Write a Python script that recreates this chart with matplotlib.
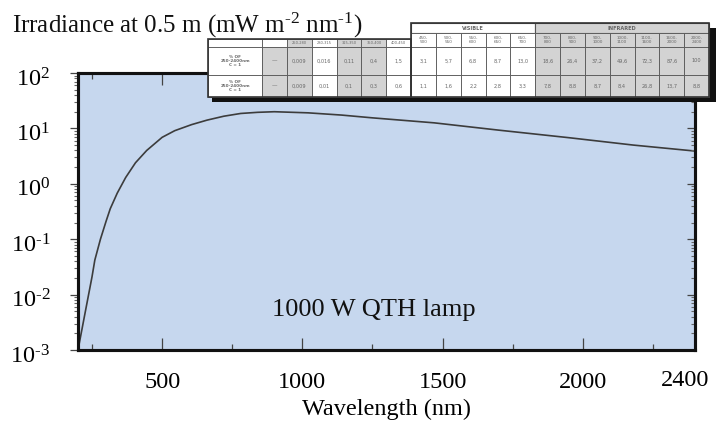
import matplotlib
matplotlib.use('Agg')
import math
import matplotlib.pyplot as plt
from matplotlib.patches import Rectangle
from matplotlib.ticker import FixedLocator, LogLocator, NullFormatter, FuncFormatter
import matplotlib.transforms as mtransforms

plt.rcParams['font.family'] = ['Liberation Serif', 'DejaVu Serif']
plt.rcParams['mathtext.fontset'] = 'custom'
plt.rcParams['mathtext.rm'] = 'Liberation Serif'
plt.rcParams['mathtext.it'] = 'Liberation Serif:italic'
plt.rcParams['mathtext.bf'] = 'Liberation Serif:bold'
plt.rcParams['axes.unicode_minus'] = False

# ---------------- data ----------------
wavelength_nm = [200, 225, 250, 260, 280, 300, 315, 340, 370, 405, 445, 500, 545, 605,
                 660, 720, 780, 840, 900, 1020, 1140, 1250, 1470, 1700, 1950, 2180, 2400]
irradiance = [0.001, 0.0046, 0.021, 0.042, 0.10, 0.21, 0.355, 0.68, 1.3, 2.4, 4.0, 6.9, 9.1, 11.7,
              14.1, 16.6, 18.6, 19.5, 20.0, 19.1, 17.4, 15.5, 12.6, 9.3, 6.8, 5.0, 3.9]

x_major_ticks = [500, 1000, 1500, 2000, 2400]
x_minor_ticks = [250, 750, 1250, 1750, 2250]
x_limits = [200, 2400]
y_limits = [1e-3, 1e2]

HY = "\u2010"
title_text = "Irradiance at 0.5 m (mW m$^{" + HY + "2}$ nm$^{" + HY + "1}$)"
x_label = "Wavelength (nm)"
lamp_label = "1000 W QTH lamp"

# inset table (pasted spectral distribution table)
table_bands = ["250-\n280", "280-\n315", "315-\n350", "350-\n400", "400-\n450",
               "450-\n500", "500-\n550", "550-\n600", "600-\n650", "650-\n700",
               "700-\n800", "800-\n900", "900-\n1000", "1000-\n1100", "1100-\n1600",
               "1600-\n2000", "2000-\n2400"]
table_groups = [("VISIBLE", 5, 10), ("INFRARED", 10, 17)]
table_row_labels = ["% OF\n250-2400nm\nC = 1", "% OF\n250-2400nm\nC = 1"]
row_cumulative = ["0,009", "0,016", "0,11", "0,4", "1,5", "3,1", "5,7", "6,8", "8,7", "13,0",
                  "18,6", "26,4", "37,2", "49,6", "72,3", "87,6", "100"]
row_share = ["0,009", "0,01", "0,1", "0,3", "0,6", "1,1", "1,6", "2,2", "2,8", "3,3",
             "7,8", "8,8", "8,7", "8,4", "26,8", "13,7", "8,8"]
grey_columns = [0, 2, 3, 10, 11, 12, 13, 14, 15, 16]

# ---------------- figure ----------------
W, H = 719, 429
fig = plt.figure(figsize=(W / 100, H / 100), dpi=100)
fig.patch.set_facecolor('white')

ax_l, ax_r, ax_t, ax_b = 78, 695, 73, 350
ax = fig.add_axes([ax_l / W, 1 - ax_b / H, (ax_r - ax_l) / W, (ax_b - ax_t) / H])
ax.set_facecolor('#c6d7ee')
ax.plot(wavelength_nm, irradiance, color='#3c3c3c', lw=1.2)
ax.set_yscale('log')
ax.set_xlim(x_limits)
ax.set_ylim(y_limits)

ax.xaxis.set_major_locator(FixedLocator(x_major_ticks))
ax.xaxis.set_minor_locator(FixedLocator(x_minor_ticks))
ax.xaxis.set_minor_formatter(NullFormatter())
ax.tick_params(axis='x', which='both', direction='in', top=True, bottom=True,
               labelsize=17.5, pad=16, colors='black')
ax.tick_params(axis='x', which='major', length=8.5, width=0.9, color='#444')
ax.tick_params(axis='x', which='minor', length=4, width=0.9, color='#444')


def decade_label(v, pos):
    e = int(round(math.log10(v)))
    return "$\\mathdefault{10^{" + str(e).replace('-', HY) + "}}$"


ax.yaxis.set_major_locator(LogLocator(base=10, numticks=10))
ax.yaxis.set_major_formatter(FuncFormatter(decade_label))
ax.yaxis.set_minor_locator(LogLocator(base=10, subs=range(2, 10), numticks=10))
ax.yaxis.set_minor_formatter(NullFormatter())
ax.tick_params(axis='y', which='both', direction='out', left=True, right=False,
               labelsize=17.5, pad=14)
ax.tick_params(axis='y', which='major', length=6, width=0.9, color='#444')
ax.tick_params(axis='y', which='minor', length=3, width=0.8, color='#666')

# right side inward ticks
axr = ax.twinx()
axr.set_yscale('log')
axr.set_ylim(y_limits)
axr.yaxis.set_major_locator(LogLocator(base=10, numticks=10))
axr.yaxis.set_minor_locator(LogLocator(base=10, subs=range(2, 10), numticks=10))
axr.tick_params(axis='y', which='both', direction='in', labelright=False)
axr.tick_params(axis='y', which='major', length=6, width=0.9, color='#444')
axr.tick_params(axis='y', which='minor', length=3, width=0.8, color='#666')

for a in (ax, axr):
    for s in a.spines.values():
        s.set_linewidth(2.2)
        s.set_color('#111')

ax.set_xlabel(x_label, fontsize=17.5, labelpad=4)

# shift the last x tick label (2400) left so it stays in the figure
fig.canvas.draw()
xl = ax.get_xticklabels()
last = xl[-1]
last.set_transform(last.get_transform() + mtransforms.ScaledTranslation(-10 / 100, 2 / 100, fig.dpi_scale_trans))
for lab in ax.get_yticklabels():
    lab.set_transform(lab.get_transform() + mtransforms.ScaledTranslation(0, -4 / 100, fig.dpi_scale_trans))

ax.text(0.48, 0.145, lamp_label, transform=ax.transAxes, ha='center', va='center',
        fontsize=19, color='#111')

# ---------------- inset table overlay ----------------
ov = fig.add_axes([0, 0, 1, 1], zorder=2)
ov.set_xlim(0, W)
ov.set_ylim(H, 0)
ov.axis('off')

x_lab0, x_dash0, x_data0, x_end = 208, 262, 287, 709
n = len(table_bands)
cw = (x_end - x_data0) / n
y_grp0, y_hdr0, y_r10, y_r20, y_end = 23, 33, 47, 75, 97
y_cut = 39
line_c = '#555555'
grey = '#d3d3d3'
txt_c = '#666666'
tfont = dict(family='DejaVu Sans', color=txt_c, ha='center', va='center')
n_cut = table_groups[0][1]

# shadow (bottom and right)
ov.add_patch(Rectangle((212, y_end), x_end + 7 - 212, 4.5, facecolor='#111', edgecolor='none'))
ov.add_patch(Rectangle((x_end, 28), 7, y_end + 4.5 - 28, facecolor='#111', edgecolor='none'))


def col_x(i):
    return x_data0 + i * cw


# white background of the table
ov.add_patch(Rectangle((col_x(n_cut), y_grp0), x_end - col_x(n_cut), y_end - y_grp0,
                       facecolor='white', edgecolor='none'))
ov.add_patch(Rectangle((x_lab0, y_cut), col_x(n_cut) - x_lab0, y_end - y_cut,
                       facecolor='white', edgecolor='none'))

# group header cells
for name, c0, c1 in table_groups:
    fc = grey if name == "INFRARED" else 'white'
    ov.add_patch(Rectangle((col_x(c0), y_grp0), col_x(c1) - col_x(c0), y_hdr0 - y_grp0,
                           facecolor=fc, edgecolor=line_c, lw=0.8))
    ov.text((col_x(c0) + col_x(c1)) / 2, (y_grp0 + y_hdr0) / 2, name, fontsize=3.6,
            weight='bold', **tfont)

# band header cells and data cells
rows = [(y_r10, y_r20, row_cumulative), (y_r20, y_end, row_share)]
for i, band in enumerate(table_bands):
    fc = grey if i in grey_columns else 'white'
    x0 = col_x(i)
    if i < n_cut:
        ov.add_patch(Rectangle((x0, y_cut), cw, y_r10 - y_cut, facecolor=fc, edgecolor=line_c, lw=0.6))
        ov.text(x0 + cw / 2, (y_cut + y_r10) / 2 + 0.5, band.replace("\n", ""), fontsize=2.6, **tfont)
    else:
        ov.add_patch(Rectangle((x0, y_hdr0), cw, y_r10 - y_hdr0, facecolor=fc, edgecolor=line_c, lw=0.6))
        ov.text(x0 + cw / 2, (y_hdr0 + y_r10) / 2, band, fontsize=3.0, linespacing=1.0, **tfont)
    for (ya, yb, vals) in rows:
        ov.add_patch(Rectangle((x0, ya), cw, yb - ya, facecolor=fc, edgecolor=line_c, lw=0.6))
        ov.text(x0 + cw / 2, (ya + yb) / 2, vals[i], fontsize=3.6, **tfont)

# label and dash columns
ov.add_patch(Rectangle((x_lab0, y_cut), x_dash0 - x_lab0, y_r10 - y_cut, facecolor='white', edgecolor=line_c, lw=0.6))
ov.add_patch(Rectangle((x_dash0, y_cut), x_data0 - x_dash0, y_r10 - y_cut, facecolor='white', edgecolor=line_c, lw=0.6))
for k, (ya, yb, vals) in enumerate(rows):
    ov.add_patch(Rectangle((x_lab0, ya), x_dash0 - x_lab0, yb - ya, facecolor='white', edgecolor=line_c, lw=0.6))
    ov.add_patch(Rectangle((x_dash0, ya), x_data0 - x_dash0, yb - ya, facecolor=grey, edgecolor=line_c, lw=0.6))
    ov.text((x_lab0 + x_dash0) / 2, (ya + yb) / 2, table_row_labels[k], fontsize=3.0,
            weight='bold', linespacing=1.1, **tfont)
    ov.text((x_dash0 + x_data0) / 2, (ya + yb) / 2, "\u2014", fontsize=4, **tfont)

# outer borders
ov.add_patch(Rectangle((col_x(n_cut), y_grp0), x_end - col_x(n_cut), y_end - y_grp0, facecolor='none',
                       edgecolor='#333', lw=1.2))
ov.add_patch(Rectangle((x_lab0, y_cut), col_x(n_cut) - x_lab0, y_end - y_cut, facecolor='none',
                       edgecolor='#333', lw=1.2))

# title
fig.text(12 / W, 1 - 33 / H, title_text, fontsize=18, ha='left', va='baseline', color='#111', zorder=5)

fig.savefig('out.png', dpi=100)
